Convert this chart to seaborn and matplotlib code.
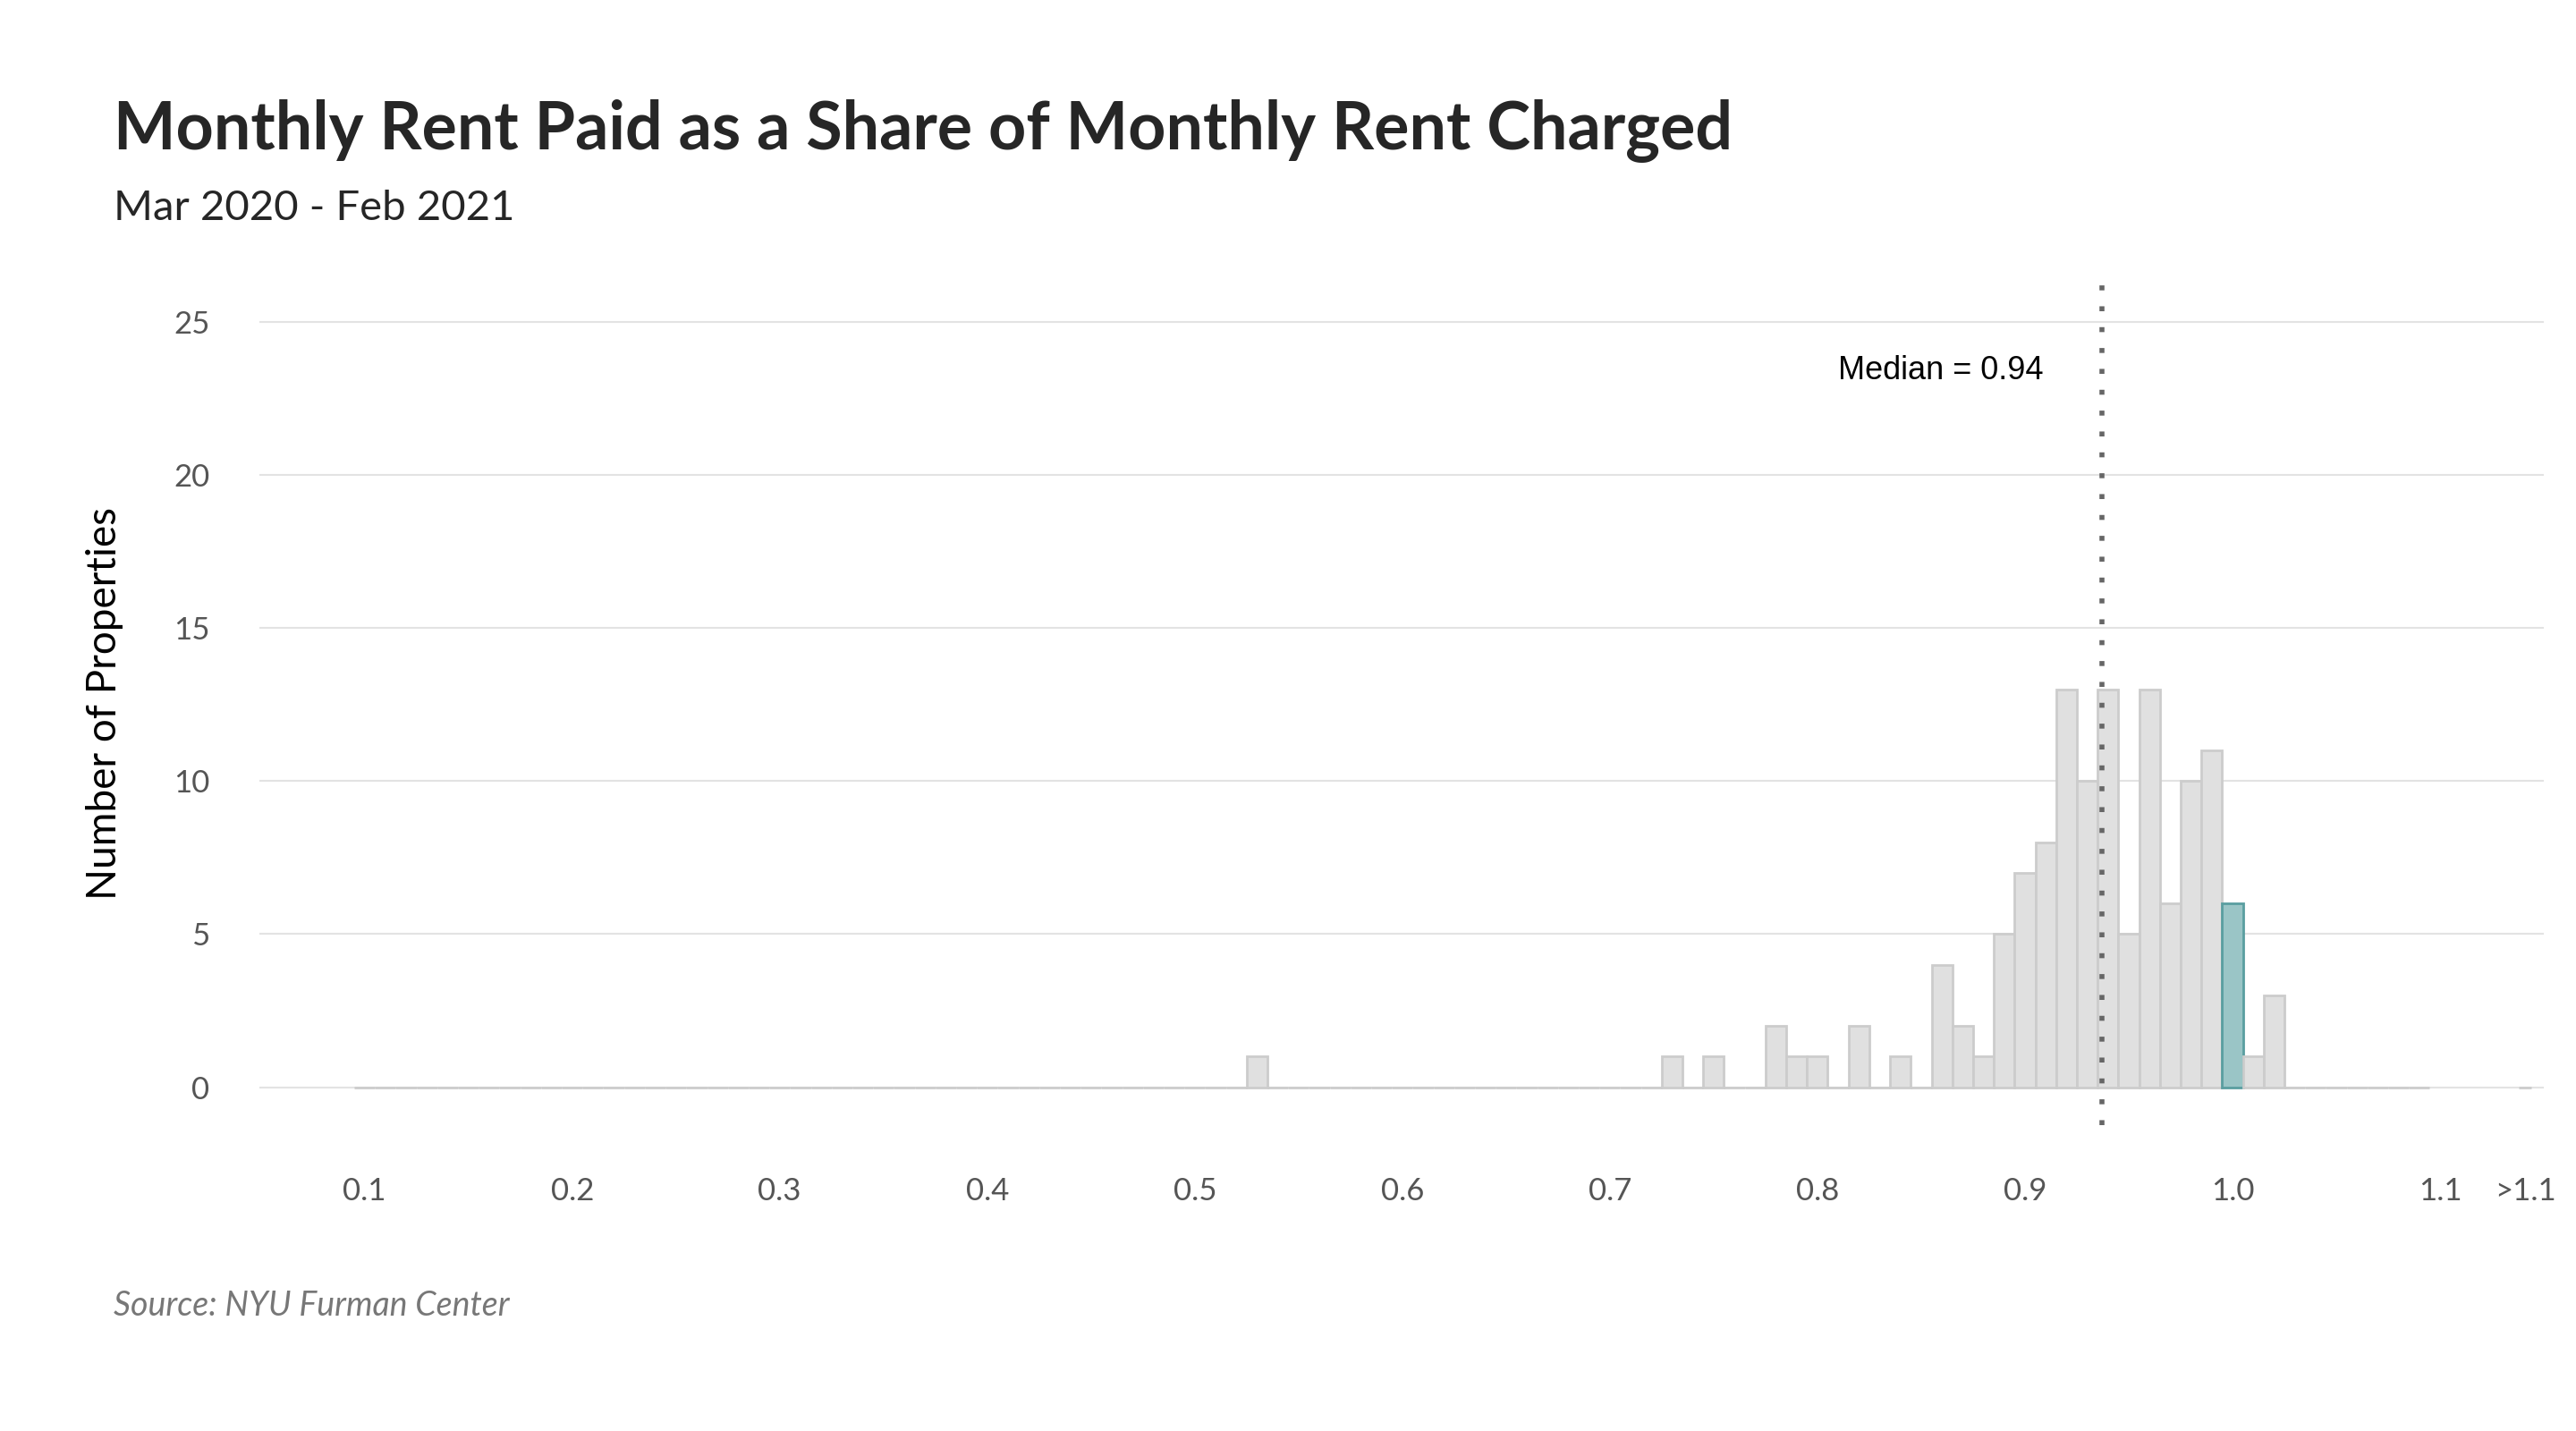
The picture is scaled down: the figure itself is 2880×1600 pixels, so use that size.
import numpy as np
import matplotlib
matplotlib.use("Agg")
import matplotlib.pyplot as plt
import seaborn as sns

# bin centers (width 0.01) and counts
bin_centers = np.round(np.arange(0.10, 1.095, 0.01), 2)
nonzero = {0.53: 1, 0.73: 1, 0.75: 1, 0.78: 2, 0.79: 1, 0.80: 1, 0.82: 2, 0.84: 1,
           0.86: 4, 0.87: 2, 0.88: 1, 0.89: 5, 0.90: 7, 0.91: 8, 0.92: 13, 0.93: 10,
           0.94: 13, 0.95: 5, 0.96: 13, 0.97: 6, 0.98: 10, 0.99: 11, 1.00: 6,
           1.01: 1, 1.02: 3}
counts = [nonzero.get(c, 0) for c in bin_centers]
over_label = ">1.1"
over_count = 0
median = 0.937
x_ticks = [0.1, 0.2, 0.3, 0.4, 0.5, 0.6, 0.7, 0.8, 0.9, 1.0, 1.1]
y_ticks = [0, 5, 10, 15, 20, 25]

sns.set_style("white")
plt.rcParams["font.family"] = ["Lato", "DejaVu Sans"]

fig = plt.figure(figsize=(28.8, 16), dpi=100)
ax = fig.add_axes([0.1007, 0.214, 0.8868, 0.5885])

sns.histplot(x=bin_centers, weights=counts, binwidth=0.01, binrange=(0.095, 1.095),
             color="#e0e0e0", edgecolor="#cccccc", linewidth=2, alpha=1, ax=ax, zorder=2)
for p in ax.patches:
    if abs(p.get_x() + p.get_width() / 2 - 1.00) < 0.004:
        p.set_facecolor("#9ac5c6")
        p.set_edgecolor("#5a9ea0")
sns.histplot(x=[1.141], weights=[over_count], binwidth=0.006, binrange=(1.138, 1.144),
             color="#e0e0e0", edgecolor="#cccccc", linewidth=2, alpha=1, ax=ax, zorder=2)

ax.axvline(median, color="#666666", linestyle=(0, (1, 3.2)), linewidth=4, zorder=3)
ax.text(median - 0.028, 23.4, "Median = 0.94", ha="right", va="center",
        fontsize=26, family=["Liberation Sans", "DejaVu Sans"], color="black")

ax.set_xlim(0.0493, 1.150)
ax.set_ylim(-1.23, 26.29)
for y in y_ticks:
    ax.axhline(y, color="#e3e3e3", linewidth=1.5, zorder=0)
ax.set_yticks(y_ticks)
ax.set_xticks(x_ticks + [1.141])
ax.set_xticklabels([f"{t:.1f}" for t in x_ticks] + [over_label])
ax.tick_params(axis="x", length=0, pad=42, labelsize=25, labelcolor="#555555")
ax.tick_params(axis="y", length=0, pad=40, labelsize=25, labelcolor="#555555")
ax.set_xlabel("")
ax.set_ylabel("Number of Properties", fontsize=33, color="black", labelpad=40)
for s in ax.spines.values():
    s.set_visible(False)

fig.text(127 / 2880, 1 - 147 / 1600, "Monthly Rent Paid as a Share of Monthly Rent Charged",
         fontsize=53, fontweight="bold", va="center", ha="left")
fig.text(127 / 2880, 1 - 233 / 1600, "Mar 2020 - Feb 2021", fontsize=34, va="center", ha="left")
fig.text(127 / 2880, 1 - 1460 / 1600, "Source: NYU Furman Center", fontsize=27,
         style="italic", color="#777777", va="center", ha="left")

fig.savefig("out.png", dpi=100)
